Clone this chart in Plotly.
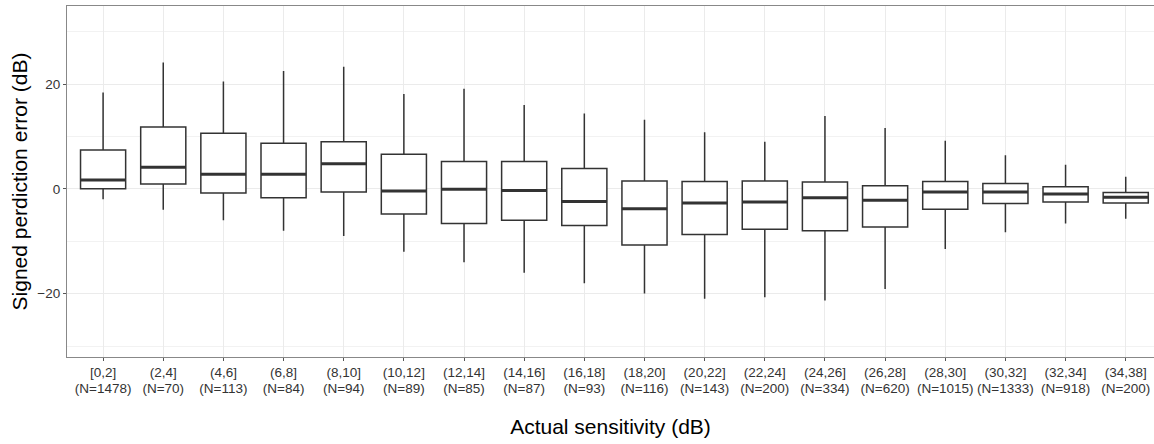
import plotly.graph_objects as go

categories = ["[0,2]", "(2,4]", "(4,6]", "(6,8]", "(8,10]", "(10,12]", "(12,14]", "(14,16]",
              "(16,18]", "(18,20]", "(20,22]", "(22,24]", "(24,26]", "(26,28]", "(28,30]",
              "(30,32]", "(32,34]", "(34,38]"]
counts = [1478, 70, 113, 84, 94, 89, 85, 87, 93, 116, 143, 200, 334, 620, 1015, 1333, 918, 200]

whisker_low = [-2.0, -4.0, -6.0, -8.0, -9.0, -12.0, -14.0, -16.0, -18.0, -20.0, -21.0, -20.7,
               -21.3, -19.1, -11.5, -8.3, -6.6, -5.7]
q1_vals = [0.0, 0.9, -0.8, -1.7, -0.6, -4.8, -6.6, -6.0, -7.0, -10.7, -8.7, -7.7,
           -8.0, -7.3, -3.9, -2.8, -2.5, -2.7]
median_vals = [1.7, 4.1, 2.8, 2.8, 4.8, -0.4, -0.1, -0.3, -2.4, -3.8, -2.7, -2.5,
               -1.7, -2.2, -0.6, -0.6, -1.0, -1.6]
q3_vals = [7.4, 11.8, 10.6, 8.7, 9.0, 6.6, 5.2, 5.2, 3.9, 1.5, 1.4, 1.5,
           1.3, 0.6, 1.4, 1.0, 0.4, -0.7]
whisker_high = [18.4, 24.1, 20.5, 22.5, 23.3, 18.1, 19.1, 16.0, 14.4, 13.2, 10.8, 9.0,
                13.9, 11.6, 9.2, 6.4, 4.6, 2.3]

count_labels = [f"(N={n})" for n in counts]
positions = list(range(len(categories)))
BOX_WIDTH = 0.75
FONT = "Liberation Sans, Arial, Helvetica, sans-serif"
TICK_FONT = dict(size=13.5, color="#333333")

fig = go.Figure()
fig.add_trace(go.Box(
    x=positions, q1=q1_vals, median=median_vals, q3=q3_vals,
    lowerfence=whisker_low, upperfence=whisker_high,
    width=BOX_WIDTH, whiskerwidth=0, boxpoints=False,
    fillcolor="white", line=dict(color="#333333", width=1.5),
    showlegend=False, hoverinfo="skip",
))

# thicker median bars (ggplot style), drawn on the overlaying axis that carries the N labels
mx, my = [], []
for p, m in zip(positions, median_vals):
    mx += [p - BOX_WIDTH / 2, p + BOX_WIDTH / 2, None]
    my += [m, m, None]
fig.add_trace(go.Scatter(x=mx, y=my, mode="lines", xaxis="x2", yaxis="y",
                         line=dict(color="#333333", width=3),
                         showlegend=False, hoverinfo="skip"))

X_RANGE = [-0.6, 17.47]

fig.update_layout(
    width=1154, height=444,
    margin=dict(l=67, r=0, t=6, b=87),
    paper_bgcolor="white", plot_bgcolor="white",
    font=dict(family=FONT, color="#000000"),
    xaxis=dict(
        range=X_RANGE, automargin=False,
        tickmode="array", tickvals=positions, ticktext=categories,
        tickfont=TICK_FONT,
        ticks="outside", ticklen=3, tickcolor="#555555",
        showgrid=True, gridcolor="#ebebeb", gridwidth=1,
        showline=True, linecolor="#888888", linewidth=1.2, mirror=True,
        zeroline=False,
        title=dict(text="Actual sensitivity (dB)", font=dict(size=21, color="#000000"),
                   standoff=40),
    ),
    xaxis2=dict(
        range=X_RANGE, automargin=False, overlaying="x", anchor="y", side="bottom",
        tickmode="array", tickvals=positions, ticktext=count_labels,
        tickfont=TICK_FONT, ticks="", ticklabelstandoff=21,
        showgrid=False, showline=False, zeroline=False,
    ),
    yaxis=dict(
        range=[-32.1, 34.9], automargin=False,
        tickmode="linear", tick0=0, dtick=20,
        tickfont=TICK_FONT,
        ticks="outside", ticklen=3, tickcolor="#555555",
        showgrid=True, gridcolor="#ebebeb", gridwidth=1,
        minor=dict(dtick=10, tick0=0, showgrid=True, gridcolor="#f2f2f2", gridwidth=1),
        showline=True, linecolor="#888888", linewidth=1.2, mirror=False,
        zeroline=False,
        title=dict(text="Signed perdiction error (dB)", font=dict(size=21, color="#000000"),
                   standoff=3),
    ),
)

fig.write_html("out.html", config={"displayModeBar": False},
               post_script="document.body.style.margin='0';")
